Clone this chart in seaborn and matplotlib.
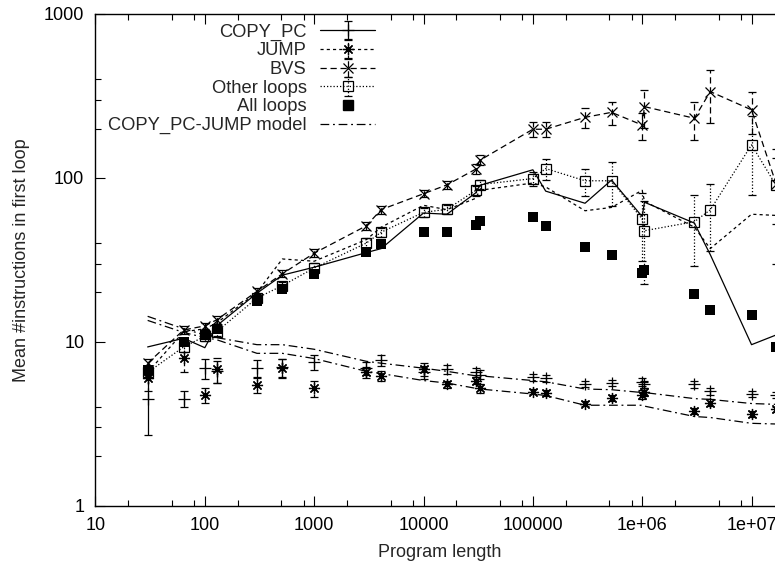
import matplotlib
matplotlib.use("Agg")
import matplotlib.pyplot as plt
from matplotlib.lines import Line2D
from matplotlib.ticker import LogLocator, NullFormatter, FixedLocator, FixedFormatter
import seaborn as sns

# x positions (program length)
program_length = [30, 64, 100, 128, 300, 512, 1000, 3000, 4096, 10000, 16384,
                  30000, 32768, 100000, 131072, 300000, 524288, 1000000, 1048576,
                  3000000, 4194304, 10000000, 16777216]

# upper group: mean loop length
copy_pc = [9.3, 10.5, 9.2, 12.5, 19.8, 25.5, 28.5, 35, 37, 61, 60,
           81, 90, 112, 83, 70, 97, 58, 71, 53, 34, 9.6, 11]
jump = [6.5, 11.5, 12, 13, 20, 32, 31, 42, 50, 68, 64,
        75, 84, 93, 88, 63, 66, 84, 72, 50, 37, 60, 59]
bvs = [7.4, 11.8, 12.5, 13.6, 20.3, 26, 34.7, 51, 64, 80, 90.6,
       113, 128, 198, 198, 234, 251, 210, 272, 231, 336, 260, 92]
bvs_err = [0.5, 0.6, 0.6, 0.7, 1.0, 1.3, 2, 3, 3.5, 4, 5,
           8, 9, 20, 20, 33, 40, 40, 70, 60, 120, 75, 40]
other_loops = [6.5, 9.3, 10.8, 11.5, 18.5, 22, 28.2, 40, 46.6, 61.6, 64.3,
               83.8, 91, 99, 114, 96, 96, 56, 47.6, 54, 63.8, 159, 90]
other_loops_err = [0.5, 0.6, 0.7, 0.7, 1.0, 1.3, 2, 3, 3, 4, 4,
                   6, 6, 10, 17, 18, 29, 25, 25, 25, 28, 80, 60]
all_loops = [6.7, 10.0, 11.0, 11.9, 17.7, 21.1, 25.9, 35.5, 39.5, 46.6, 46.6,
             51.5, 54.5, 57.9, 50.5, 38.1, 33.8, 26.4, 27.3, 19.6, 15.6, 14.6, 9.3]

# lower group: compared against the model
copy_pc_low = [4.5, 4.5, 6.9, 6.6, 6.9, 7.0, 7.5, 6.9, 7.7, 6.5, 6.8,
               6.5, 6.3, 6.1, 6.0, 5.55, 5.6, 5.7, 5.5, 5.5, 5.0, 4.8, 4.75]
copy_pc_low_err = [1.8, 0.5, 1.0, 1.0, 0.8, 0.9, 0.8, 0.6, 0.6, 0.6, 0.4,
                   0.4, 0.4, 0.3, 0.3, 0.25, 0.25, 0.3, 0.3, 0.25, 0.25, 0.2, 0.2]
jump_low = [6.0, 8.0, 4.75, 6.8, 5.45, 6.95, 5.2, 6.5, 6.2, 6.8, 5.5,
            5.8, 5.2, 4.97, 4.9, 4.2, 4.55, 4.75, 4.95, 3.8, 4.25, 3.63, 3.87]
jump_low_err = [1.0, 1.5, 0.5, 1.2, 0.55, 0.9, 0.6, 0.5, 0.4, 0.6, 0.3,
                0.3, 0.3, 0.2, 0.2, 0.15, 0.2, 0.3, 0.3, 0.15, 0.2, 0.15, 0.15]
model_copy_pc = [14.3, 12.0, 11.0, 10.6, 9.6, 9.6, 9.0, 7.6, 7.4, 6.9, 6.6,
                 6.2, 6.2, 5.8, 5.7, 5.15, 5.1, 4.9, 4.9, 4.5, 4.45, 4.2, 4.15]
model_jump = [13.5, 11.4, 10.6, 10.3, 8.5, 8.5, 7.9, 6.6, 6.4, 5.8, 5.6,
              5.2, 5.15, 4.8, 4.7, 4.1, 4.1, 4.1, 4.05, 3.5, 3.45, 3.18, 3.15]

sns.set_theme(style="ticks")
plt.rcParams["font.family"] = ["Liberation Sans", "DejaVu Sans"]
plt.rcParams["font.size"] = 13

LW = 0.9
ASTERISK = (8, 2, 0)
short_dash = (0, (2.5, 2.5))
long_dash = (0, (5, 3))
dotted = (0, (1, 1.6))
dash_dot = (0, (7, 3, 1.5, 3))

fig = plt.figure(figsize=(7.75, 5.65), dpi=100)
ax = fig.add_axes([0.1232, 0.105, 0.889, 0.8703])


def err_series(y, err, marker, ls, bar_ls, label, ms=7):
    c = ax.errorbar(program_length, y, yerr=err, color="black", lw=LW,
                    linestyle=ls, marker=marker, ms=ms,
                    mfc="none", mec="black", mew=LW, elinewidth=LW,
                    capsize=3, capthick=LW, label=label)
    for bl in c[2]:
        bl.set_linestyle(bar_ls)
    return c


# upper lines without markers
sns.lineplot(x=program_length, y=copy_pc, color="black", lw=LW, linestyle="-",
             ax=ax, legend=False)
sns.lineplot(x=program_length, y=jump, color="black", lw=LW, linestyle=short_dash,
             ax=ax, legend=False)

h_bvs = err_series(bvs, bvs_err, "x", long_dash, long_dash, "BVS", ms=7)
h_other = err_series(other_loops, other_loops_err, "s", dotted, dotted, "Other loops", ms=6.5)

sns.scatterplot(x=program_length, y=all_loops, marker="s", s=60, color="black",
                edgecolor="black", linewidth=0, ax=ax, legend=False, zorder=3)

# lower points: errorbars with markers only (line hidden after the legend is built)
h_copy = err_series(copy_pc_low, copy_pc_low_err, "+", "-", "-", "COPY_PC", ms=8)
h_jump = err_series(jump_low, jump_low_err, ASTERISK, short_dash, short_dash, "JUMP", ms=8)

sns.lineplot(x=program_length, y=model_copy_pc, color="black", lw=LW,
             linestyle=dash_dot, ax=ax, legend=False)
sns.lineplot(x=program_length, y=model_jump, color="black", lw=LW,
             linestyle=dash_dot, ax=ax, legend=False)
h_model = ax.get_lines()[-1]

ax.set_xscale("log")
ax.set_yscale("log")
ax.set_xlim(10, 2e7)
ax.set_ylim(1, 1000)

xt = [10, 100, 1000, 10000, 100000, 1e6, 1e7]
ax.xaxis.set_major_locator(FixedLocator(xt))
ax.xaxis.set_major_formatter(FixedFormatter(["10", "100", "1000", "10000", "100000", "1e+06", "1e+07"]))
ax.xaxis.set_minor_locator(LogLocator(base=10, subs=(2, 5, 8), numticks=20))
ax.xaxis.set_minor_formatter(NullFormatter())
yt = [1, 10, 100, 1000]
ax.yaxis.set_major_locator(FixedLocator(yt))
ax.yaxis.set_major_formatter(FixedFormatter(["1", "10", "100", "1000"]))
ax.yaxis.set_minor_locator(LogLocator(base=10, subs=(2, 3, 4), numticks=20))
ax.yaxis.set_minor_formatter(NullFormatter())

ax.tick_params(which="both", direction="in", top=True, right=True, width=0.8,
               labelsize=13, color="black", labelcolor="black")
ax.tick_params(which="major", length=7, pad=8)
ax.tick_params(which="minor", length=4)
for s in ax.spines.values():
    s.set_linewidth(1.0)
    s.set_color("black")

ax.set_xlabel("Program length", fontsize=13, labelpad=7)
ax.set_ylabel("Mean #instructions in first loop", fontsize=13, labelpad=10)

h_all = Line2D([], [], color="black", marker="s", linestyle="none", ms=7.5)
leg = ax.legend([h_copy, h_jump, h_bvs, h_other, h_all, h_model],
                ["COPY_PC", "JUMP", "BVS", "Other loops", "All loops", "COPY_PC-JUMP model"],
                loc="upper left", bbox_to_anchor=(0.005, 0.999), frameon=False,
                markerfirst=False, fontsize=13.2, labelspacing=0.09, handlelength=3.0,
                handletextpad=0.75, borderpad=0, numpoints=1)

# the lower points are not joined in the plot itself
h_copy[0].set_linestyle("none")
h_jump[0].set_linestyle("none")

fig.savefig("out.png", dpi=100)
